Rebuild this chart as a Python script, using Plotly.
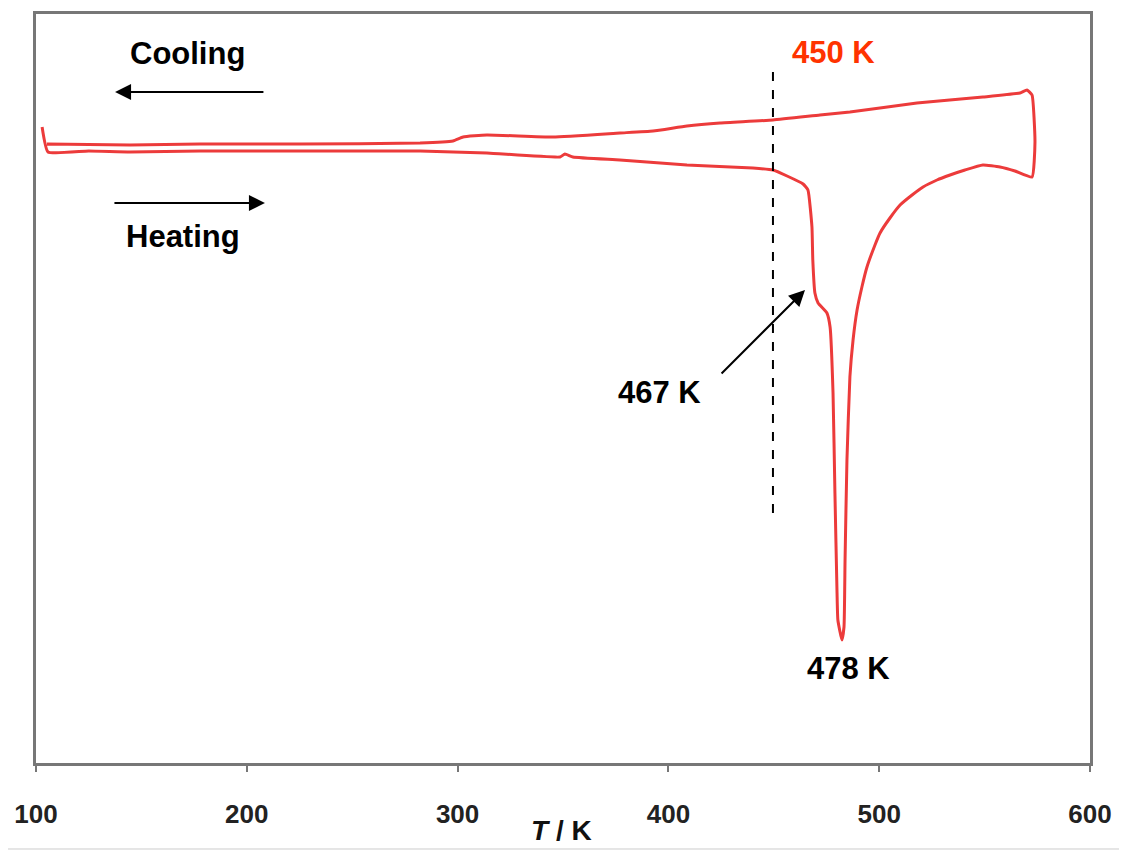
import plotly.graph_objects as go

# DSC trace: temperature (K) and heat flow (arbitrary units), heating then cooling
temperature = [102.9, 105.7, 125.0, 144.6, 177.8, 225.2, 282.2, 313.9, 348.6, 350.9, 354.7,
               377.0, 408.8, 440.1, 449.6, 456.3, 463.9, 466.2, 468.1, 468.5, 469.5,
               471.0, 475.2, 476.7, 478.1, 479.0, 480.0, 480.4, 482.3, 483.3, 483.8,
               484.7, 486.1, 487.6, 489.5, 491.8, 494.2, 498.0, 500.4, 505.1, 509.9,
               515.6, 520.8, 527.4, 533.6, 540.7, 549.2, 557.3, 564.4,
               572.5, 573.9, 572.5, 570.1, 566.8, 549.2, 517.9, 486.1, 471.9, 449.6,
               424.5, 408.8, 392.7, 377.0, 345.3, 313.9, 302.6, 297.8, 282.2, 225.2,
               177.8, 144.6, 105.2]
heat_flow = [63.6, 61.1, 61.2, 61.1, 61.2, 61.2, 61.2, 61.0, 60.6, 60.9, 60.6,
             60.3, 59.8, 59.5, 59.3, 58.7, 57.9, 57.3, 53.6, 50.3, 47.0,
             46.0, 45.0, 43.6, 37.0, 27.0, 17.0, 14.3, 12.3, 13.6, 20.3,
             30.3, 38.6, 42.3, 45.3, 47.6, 49.6, 51.8, 53.0, 54.5, 55.8,
             56.8, 57.6, 58.3, 58.8, 59.3, 59.8, 59.6, 59.2,
             58.6, 62.1, 66.8, 67.3, 67.0, 66.6, 66.0, 65.1, 64.8, 64.3,
             64.0, 63.7, 63.2, 63.0, 62.6, 62.8, 62.6, 62.2, 62.0, 61.9,
             61.9, 61.8, 61.9]

x_ticks = [100, 200, 300, 400, 500, 600]
marker_T = 449.6          # dashed line position (450 K)
shoulder_T = 467          # shoulder label
peak_T = 478              # peak label

curve_color = "#ec3b3b"
font_family = "Liberation Sans, Arial, sans-serif"

fig = go.Figure()
fig.add_trace(go.Scatter(x=temperature, y=heat_flow, mode="lines",
                         line=dict(color=curve_color, width=3, shape="spline", smoothing=0.4),
                         showlegend=False, hoverinfo="skip"))

# dashed vertical marker
fig.add_trace(go.Scatter(x=[marker_T, marker_T], y=[69.1, 24.5], mode="lines",
                         line=dict(color="black", width=2, dash="dash"),
                         showlegend=False, hoverinfo="skip"))

txt = dict(family=font_family, size=31, color="black")
arrow = dict(axref="x", ayref="y", xref="x", yref="y", text="", showarrow=True,
             arrowhead=2, arrowsize=1.6, arrowwidth=2, arrowcolor="black")
annotations = [
    dict(x=172.1, y=71.0, text="<b>Cooling</b>", showarrow=False, font=txt),
    dict(x=169.7, y=52.7, text="<b>Heating</b>", showarrow=False, font=txt),
    dict(x=396.0, y=37.1, text=f"<b>{shoulder_T} K</b>", showarrow=False, font=txt),
    dict(x=485.2, y=9.5, text=f"<b>{peak_T} K</b>", showarrow=False, font=txt),
    dict(x=478.1, y=71.1, text="<b>450 K</b>", showarrow=False,
         font=dict(family=font_family, size=31, color="#ff3300")),
    dict(x=137.5, y=67.1, ax=208.6, ay=67.1, **arrow),
    dict(x=208.6, y=56.0, ax=136.5, ay=56.0, **arrow),
    dict(x=464.8, y=47.3, ax=424.5, ay=38.8, **arrow),
    # axis title
    dict(x=0.499, y=-0.1135, xref="paper", yref="paper", showarrow=False,
         text="<b><i>T</i> / K</b>", font=dict(family=font_family, size=28, color="#111")),
]

fig.update_layout(
    width=1127, height=864,
    margin=dict(l=28, r=45, t=6, b=109),
    paper_bgcolor="white", plot_bgcolor="white",
    annotations=annotations,
    shapes=[dict(type="line", xref="paper", yref="paper", x0=-0.0266, x1=1.035,
                 y0=-0.1148, y1=-0.1148, line=dict(color="#cccccc", width=1))],
)
fig.update_xaxes(range=[100, 600], tickvals=x_ticks, ticktext=[f"<b>{v}</b>" for v in x_ticks],
                 showgrid=False, zeroline=False, showline=True, mirror=True,
                 linecolor="#777777", linewidth=3, ticks="outside", ticklen=6,
                 tickcolor="#777777", tickwidth=2, ticklabelstandoff=20, automargin=False,
                 tickfont=dict(family=font_family, size=26, color="#222222"))
fig.update_yaxes(range=[0, 74.9], showgrid=False, zeroline=False, showline=True, mirror=True,
                 linecolor="#777777", linewidth=3, showticklabels=False, ticks="",
                 automargin=False)

fig.write_html("out.html")
